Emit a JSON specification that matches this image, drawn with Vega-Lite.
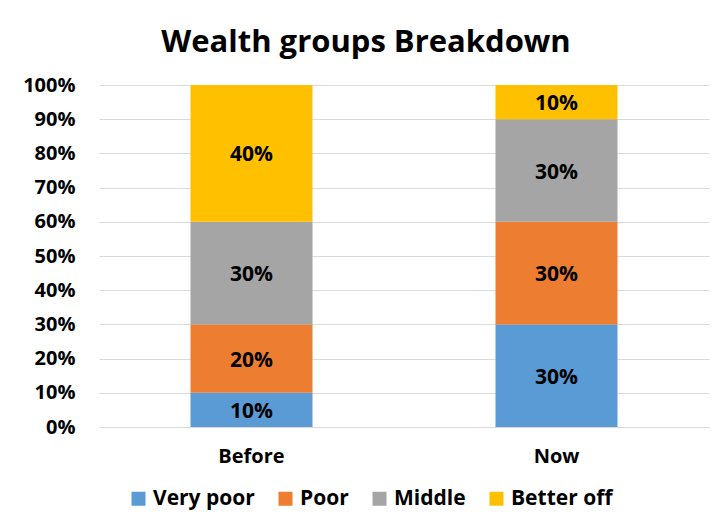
{
  "$schema": "https://vega.github.io/schema/vega-lite/v6.json",
  "autosize": "none",
  "width": 610,
  "height": 342,
  "padding": {"left": 99, "top": 85, "right": 14, "bottom": 89},
  "background": "white",
  "title": {
    "text": "Wealth groups Breakdown",
    "font": "Open Sans",
    "fontSize": 31,
    "fontWeight": "bold",
    "color": "#000000",
    "anchor": "middle",
    "frame": "group",
    "dx": -38,
    "offset": 16
  },
  "data": {
    "values": [
      {"period": "Before", "group": "Very poor", "rank": 1, "share": 0.10},
      {"period": "Before", "group": "Poor", "rank": 2, "share": 0.20},
      {"period": "Before", "group": "Middle", "rank": 3, "share": 0.30},
      {"period": "Before", "group": "Better off", "rank": 4, "share": 0.40},
      {"period": "Now", "group": "Very poor", "rank": 1, "share": 0.30},
      {"period": "Now", "group": "Poor", "rank": 2, "share": 0.30},
      {"period": "Now", "group": "Middle", "rank": 3, "share": 0.30},
      {"period": "Now", "group": "Better off", "rank": 4, "share": 0.10}
    ]
  },
  "transform": [
    {"stack": "share", "groupby": ["period"], "sort": [{"field": "rank", "order": "ascending"}], "as": ["y0", "y1"]},
    {"calculate": "(datum.y0 + datum.y1) / 2", "as": "ymid"}
  ],
  "encoding": {
    "x": {
      "field": "period",
      "type": "nominal",
      "sort": ["Before", "Now"],
      "scale": {"paddingInner": 0.6, "paddingOuter": 0.3},
      "axis": {
        "title": null,
        "labelAngle": 0,
        "labelFont": "Open Sans",
        "labelFontSize": 20,
        "labelFontWeight": "bold",
        "labelColor": "#000000",
        "labelPadding": 19,
        "ticks": false,
        "domain": true,
        "domainColor": "#D9D9D9",
        "grid": false
      }
    }
  },
  "layer": [
    {
      "mark": {"type": "bar"},
      "encoding": {
        "y": {
          "field": "y0",
          "type": "quantitative",
          "scale": {"domain": [0, 1], "nice": false},
          "axis": {
            "title": null,
            "values": [0, 0.1, 0.2, 0.3, 0.4, 0.5, 0.6, 0.7, 0.8, 0.9, 1],
            "format": ".0%",
            "labelOverlap": false,
            "labelFont": "Open Sans",
            "labelFontSize": 20,
            "labelFontWeight": "bold",
            "labelColor": "#000000",
            "labelPadding": 24,
            "ticks": false,
            "domain": false,
            "grid": true,
            "gridColor": "#D9D9D9",
            "gridWidth": 1
          }
        },
        "y2": {"field": "y1"},
        "color": {
          "field": "group",
          "type": "nominal",
          "scale": {
            "domain": ["Very poor", "Poor", "Middle", "Better off"],
            "range": ["#5B9BD5", "#ED7D31", "#A5A5A5", "#FFC000"]
          },
          "legend": {
            "title": null,
            "orient": "none",
            "direction": "horizontal",
            "legendX": 29,
            "legendY": 403,
            "symbolType": "square",
            "symbolSize": 196,
            "symbolStrokeWidth": 0,
            "symbolOpacity": 1,
            "labelFont": "Open Sans",
            "labelFontSize": 21,
            "labelFontWeight": "bold",
            "labelColor": "#000000",
            "labelOffset": 4,
            "labelLimit": 300,
            "columnPadding": 20
          }
        }
      }
    },
    {
      "mark": {"type": "text", "font": "Open Sans", "fontSize": 21, "fontWeight": "bold", "color": "#000000", "baseline": "middle", "dy": 2},
      "encoding": {
        "y": {
          "field": "ymid",
          "type": "quantitative",
          "axis": {
            "title": null,
            "values": [0, 0.1, 0.2, 0.3, 0.4, 0.5, 0.6, 0.7, 0.8, 0.9, 1],
            "format": ".0%",
            "labelOverlap": false,
            "labelFont": "Open Sans",
            "labelFontSize": 20,
            "labelFontWeight": "bold",
            "labelColor": "#000000",
            "labelPadding": 24,
            "ticks": false,
            "domain": false,
            "grid": true,
            "gridColor": "#D9D9D9",
            "gridWidth": 1
          }
        },
        "text": {"field": "share", "type": "quantitative", "format": ".0%"}
      }
    }
  ],
  "config": {
    "view": {"stroke": null}
  }
}
